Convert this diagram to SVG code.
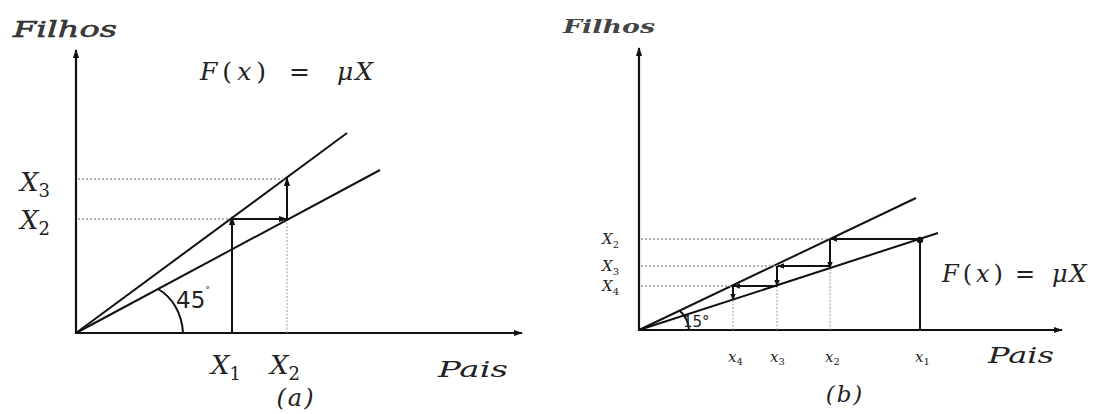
<svg xmlns="http://www.w3.org/2000/svg" width="1106" height="414" viewBox="0 0 1106 414">
<style>
.ax{stroke:#111;stroke-width:2.2;fill:none}
.ln{stroke:#111;stroke-width:2;fill:none}
.dot{stroke:#999;stroke-width:1.6;stroke-dasharray:2 2;fill:none}
.vd{stroke:#999;stroke-width:1;stroke-dasharray:2 1.5;fill:none}
.m{font-family:"DejaVu Serif","Liberation Serif",serif;font-style:italic;fill:#222}
.u{font-style:normal}
.s{font-family:"DejaVu Sans","Liberation Sans",sans-serif;fill:#222}
</style>
<defs>
<marker id="ah" viewBox="0 0 10 10" refX="9" refY="5" markerWidth="7" markerHeight="7" orient="auto" markerUnits="userSpaceOnUse"><path d="M0,1 L10,5 L0,9 z" fill="#111"/></marker>
<marker id="ahs" viewBox="0 0 10 10" refX="9" refY="5" markerWidth="9" markerHeight="9" orient="auto" markerUnits="userSpaceOnUse"><path d="M0,1.5 L10,5 L0,8.5 z" fill="#111"/></marker>
<marker id="axh" viewBox="0 0 10 10" refX="9" refY="5" markerWidth="9" markerHeight="9" orient="auto" markerUnits="userSpaceOnUse"><path d="M0,1.5 L10,5 L0,8.5 z" fill="#111"/></marker>
</defs>

<g id="panel-a">
<g id="a-axes">
<line class="ax" x1="76" y1="334" x2="76" y2="50" marker-end="url(#axh)"/>
<line class="ax" x1="75" y1="333" x2="522" y2="333" marker-end="url(#axh)"/>
</g>
<g id="a-lines">
<line class="ln" x1="76" y1="333" x2="347" y2="133"/>
<line class="ln" x1="76" y1="333" x2="380" y2="170"/>
<path class="ln" d="M183,333 C182,313 172,297 158,289"/>
</g>
<g id="a-connectors">
<line class="dot" x1="78" y1="179" x2="285" y2="179"/>
<line class="dot" x1="78" y1="219" x2="230" y2="219"/>
<line class="vd" x1="287" y1="333" x2="287" y2="222"/>
<line class="ln" x1="232" y1="333" x2="232" y2="217" marker-end="url(#ahs)"/>
<line class="ln" x1="232" y1="219" x2="287" y2="219" marker-end="url(#ahs)"/>
<line class="ln" x1="287" y1="219" x2="287" y2="178" marker-end="url(#ahs)"/>
</g>
<g id="a-labels">
<text class="m" x="13" y="37" font-size="22" stroke="#222" stroke-width="0.5" fill-opacity="0.9" textLength="104" lengthAdjust="spacingAndGlyphs">Filhos</text>
<text class="m" x="200" y="80" font-size="25"><tspan letter-spacing="5">F<tspan class="u">(</tspan>x<tspan class="u">)</tspan></tspan><tspan class="u" x="289">=</tspan><tspan x="337" letter-spacing="2">μX</tspan></text>
<text class="m" x="20" y="191" font-size="26">X<tspan class="u" font-size="18" dy="6">3</tspan></text>
<text class="m" x="20" y="229" font-size="26">X<tspan class="u" font-size="18" dy="6">2</tspan></text>
<text class="m" x="211" y="374" font-size="26">X<tspan class="u" font-size="18" dy="6">1</tspan></text>
<text class="m" x="270" y="374" font-size="26">X<tspan class="u" font-size="18" dy="6">2</tspan></text>
<text class="m" x="438" y="377" font-size="23" textLength="70" lengthAdjust="spacingAndGlyphs">Pais</text>
<text class="m" x="296" y="406" font-size="24" text-anchor="middle" letter-spacing="2">(a)</text>
<text class="s" x="176" y="308" font-size="23">45<tspan font-size="9" dy="-15">°</tspan></text>
</g>
</g>

<g id="panel-b">
<g id="b-axes">
<line class="ax" x1="639" y1="331" x2="639" y2="48" marker-end="url(#axh)"/>
<line class="ax" x1="638" y1="330" x2="1062" y2="330" marker-end="url(#axh)"/>
</g>
<g id="b-lines">
<line class="ln" x1="639" y1="330" x2="916" y2="198"/>
<line class="ln" x1="639" y1="330" x2="938" y2="233"/>
<path class="ln" d="M689,330 Q688,318 680,311"/>
</g>
<g id="b-connectors">
<line class="dot" x1="641" y1="239" x2="830" y2="239"/>
<line class="dot" x1="641" y1="266" x2="777" y2="266"/>
<line class="dot" x1="641" y1="286" x2="733" y2="286"/>
<line class="vd" x1="830" y1="330" x2="830" y2="268"/>
<line class="vd" x1="777" y1="330" x2="777" y2="286"/>
<line class="vd" x1="733" y1="330" x2="733" y2="300"/>
<line class="ln" x1="920" y1="331" x2="920" y2="240"/>
<circle cx="920" cy="240" r="3.2" fill="#111"/>
<line class="ln" x1="920" y1="239" x2="831" y2="239" marker-end="url(#ah)"/>
<line class="ln" x1="830" y1="239" x2="830" y2="268" marker-end="url(#ah)"/>
<line class="ln" x1="830" y1="266" x2="778" y2="266" marker-end="url(#ah)"/>
<line class="ln" x1="777" y1="266" x2="777" y2="286" marker-end="url(#ah)"/>
<line class="ln" x1="777" y1="286" x2="734" y2="286" marker-end="url(#ah)"/>
<line class="ln" x1="733" y1="286" x2="733" y2="300" marker-end="url(#ah)"/>
</g>
<g id="b-labels">
<text class="m" x="563" y="33" font-size="19" font-weight="bold" fill-opacity="0.85" textLength="92" lengthAdjust="spacingAndGlyphs">Filhos</text>
<text class="m" x="942" y="282" font-size="24"><tspan letter-spacing="4">F<tspan class="u">(</tspan>x<tspan class="u">)</tspan></tspan><tspan class="u" x="1015">=</tspan><tspan x="1052" letter-spacing="2">μX</tspan></text>
<text class="m" x="602" y="244" font-size="15">X<tspan class="u" font-size="10" dy="4">2</tspan></text>
<text class="m" x="602" y="271" font-size="15">X<tspan class="u" font-size="10" dy="4">3</tspan></text>
<text class="m" x="602" y="291" font-size="15">X<tspan class="u" font-size="10" dy="4">4</tspan></text>
<text class="m" x="728" y="362" font-size="15">x<tspan class="u" font-size="10" dy="3">4</tspan></text>
<text class="m" x="770" y="362" font-size="15">x<tspan class="u" font-size="10" dy="3">3</tspan></text>
<text class="m" x="825" y="362" font-size="15">x<tspan class="u" font-size="10" dy="3">2</tspan></text>
<text class="m" x="915" y="362" font-size="15">x<tspan class="u" font-size="10" dy="3">1</tspan></text>
<text class="m" x="988" y="363" font-size="23" textLength="66" lengthAdjust="spacingAndGlyphs">Pais</text>
<text class="m" x="845" y="402" font-size="23" text-anchor="middle" letter-spacing="2">(b)</text>
<text class="s" x="683" y="327" font-size="15">15°</text>
</g>
</g>
</svg>
